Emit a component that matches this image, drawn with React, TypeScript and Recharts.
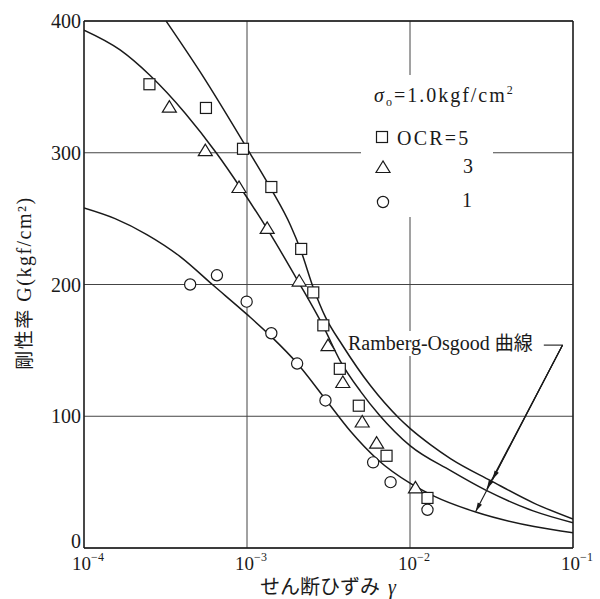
import React from 'react';
import {
  CartesianGrid,
  ComposedChart,
  Customized,
  Line,
  ReferenceLine,
  Scatter,
  XAxis,
  YAxis,
} from 'recharts';

const SERIF = "'Liberation Serif', 'Times New Roman', serif";
const CJK = "'Noto Sans CJK JP', sans-serif";
const INK = '#1a1a1a';

// measured points (shear strain, G in kgf/cm2)
const ocr5Strain = [2.52e-4, 5.6e-4, 9.45e-4, 1.41e-3, 2.15e-3, 2.55e-3, 2.94e-3, 3.71e-3, 4.85e-3, 7.18e-3, 1.28e-2];
const ocr5G = [352, 334, 303, 274, 227, 194, 169, 136, 108, 70, 38];

const ocr3Strain = [3.34e-4, 5.55e-4, 8.93e-4, 1.33e-3, 2.09e-3, 3.14e-3, 3.87e-3, 5.09e-3, 6.24e-3, 1.08e-2];
const ocr3G = [335, 302, 274, 243, 203, 154, 126, 96, 80, 46];

const ocr1Strain = [4.48e-4, 6.54e-4, 9.95e-4, 1.41e-3, 2.03e-3, 3.03e-3, 5.94e-3, 7.6e-3, 1.28e-2];
const ocr1G = [200, 207, 187, 163, 140, 112, 65, 50, 29];

// Ramberg-Osgood curves
const ro5Strain = [3.19e-4, 5.16e-4, 1.048e-3, 1.41e-3, 1.85e-3, 2.13e-3, 2.56e-3, 3.03e-3, 3.85e-3, 5.73e-3, 8.51e-3, 1e-2, 1.34e-2, 1.78e-2, 3.13e-2, 5.75e-2, 1e-1];
const ro5G = [400, 361.4, 299.2, 272.2, 244.8, 226.5, 197, 175.2, 153.9, 123.1, 98.9, 90.8, 78.3, 67.7, 51.1, 34.1, 22];

const ro3Strain = [1e-4, 1.665e-4, 2.545e-4, 4.176e-4, 6.54e-4, 9.1e-4, 1.333e-3, 2.067e-3, 2.944e-3, 3.744e-3, 4.97e-3, 6.5e-3, 1e-2, 1.776e-2, 2.915e-2, 5.75e-2, 1e-1];
const ro3G = [393, 378, 358.6, 330, 299.2, 273.6, 242, 202, 168, 141.7, 118.9, 100.8, 77.7, 58.7, 43.9, 28, 19.2];

const ro1Strain = [1e-4, 1.551e-4, 2.429e-4, 3.89e-4, 6.232e-4, 1e-3, 1.405e-3, 2.03e-3, 3.029e-3, 4.314e-3, 6.295e-3, 1e-2, 1.403e-2, 2.531e-2, 5.775e-2, 1e-1];
const ro1G = [258.1, 250, 237.9, 221.2, 199.2, 177.3, 160.6, 140.2, 112.9, 88.6, 67.4, 49.2, 39.4, 27.3, 16.3, 11.6];

const xTicks = [1e-4, 1e-3, 1e-2, 1e-1];
const yTicks = [0, 100, 200, 300, 400];
const minorTicks = [
  2e-4, 3e-4, 4e-4, 5e-4, 6e-4, 7e-4, 8e-4, 9e-4,
  2e-3, 3e-3, 4e-3, 5e-3, 6e-3, 7e-3, 8e-3, 9e-3,
  2e-2, 3e-2, 4e-2, 5e-2, 6e-2, 7e-2, 8e-2, 9e-2,
];

// leader lines of the "Ramberg-Osgood 曲線" note
const leaderStart = { x: 8.63e-2, y: 154 };
const leaderTail = { x: 6.62e-2, y: 154 };
const arrowUpper = { x: 3.21e-2, y: 51.9 };
const arrowMiddle = { x: 2.96e-2, y: 44.7 };
const arrowLower = { x: 2.53e-2, y: 27.7 };

const toPoints = (strain: number[], g: number[]) => strain.map((s, i) => ({ strain: s, G: g[i] }));

const ocr5 = toPoints(ocr5Strain, ocr5G);
const ocr3 = toPoints(ocr3Strain, ocr3G);
const ocr1 = toPoints(ocr1Strain, ocr1G);
const ro5 = toPoints(ro5Strain, ro5G);
const ro3 = toPoints(ro3Strain, ro3G);
const ro1 = toPoints(ro1Strain, ro1G);

const SquareMark = ({ cx, cy }: any) => (
  <rect x={cx - 5.5} y={cy - 5.5} width={11} height={11} fill="#fff" stroke={INK} strokeWidth={1.2} />
);
const TriangleMark = ({ cx, cy }: any) => (
  <polygon
    points={`${cx},${cy - 6} ${cx - 7},${cy + 5.5} ${cx + 7},${cy + 5.5}`}
    fill="#fff"
    stroke={INK}
    strokeWidth={1.2}
  />
);
const CircleMark = ({ cx, cy }: any) => (
  <circle cx={cx} cy={cy} r={5.6} fill="#fff" stroke={INK} strokeWidth={1.2} />
);

const DecadeTick = ({ x, y, payload }: any) => {
  const exp = Math.round(Math.log10(payload.value));
  return (
    <text x={x + 4} y={y + 22} textAnchor="middle" fill={INK} fontSize={19} fontFamily={SERIF}>
      <tspan>10</tspan>
      <tspan dy={-9} fontSize={12}>{'\u2212' + Math.abs(exp)}</tspan>
    </text>
  );
};

const GTick = ({ x, y, payload }: any) => (
  <text x={x} y={y + (payload.value === 0 ? 0 : 7)} textAnchor="end" fill={INK} fontSize={20} fontFamily={SERIF}>
    {payload.value}
  </text>
);

const arrowShape = (head: boolean) => (p: any) => {
  const { x1, y1, x2, y2 } = p;
  const a = Math.atan2(y2 - y1, x2 - x1);
  const bx = x2 - 9 * Math.cos(a);
  const by = y2 - 9 * Math.sin(a);
  const nx = -Math.sin(a) * 2.4;
  const ny = Math.cos(a) * 2.4;
  return (
    <g>
      <line x1={x1} y1={y1} x2={x2} y2={y2} stroke={INK} strokeWidth={1.1} />
      {head && <polygon points={`${x2},${y2} ${bx + nx},${by + ny} ${bx - nx},${by - ny}`} fill={INK} />}
    </g>
  );
};

const Notes = () => (
  <g fontFamily={SERIF} fill={INK}>
    {/* legend */}
    <rect x={361} y={75} width={132} height={142} fill="#fff" />
    <text x={374} y={102} fontSize={20} letterSpacing={2}>
      <tspan fontStyle="italic">σ</tspan>
      <tspan fontSize={12} dy={4}>o</tspan>
      <tspan dy={-4}>=1.0kgf/cm</tspan>
      <tspan fontSize={12} dy={-8}>2</tspan>
    </text>
    <SquareMark cx={382} cy={137} />
    <text x={397} y={145} fontSize={20} letterSpacing={2.2}>OCR=5</text>
    <TriangleMark cx={383} cy={167} />
    <text x={468} y={173} fontSize={20} textAnchor="middle">3</text>
    <CircleMark cx={383} cy={202} />
    <text x={467} y={207} fontSize={20} textAnchor="middle">1</text>

    {/* curve note */}
    <rect x={346} y={331} width={196} height={25} fill="#fff" />
    <text x={348} y={350} fontSize={20}>
      <tspan>Ramberg-Osgood </tspan>
      <tspan fontFamily={CJK} fontSize={19}>曲線</tspan>
    </text>

    {/* axis titles */}
    <text transform="translate(31,283) rotate(-90)" textAnchor="middle" fontSize={20} letterSpacing={1.5}>
      <tspan fontFamily={CJK} fontSize={19}>剛性率</tspan>
      <tspan> G(kgf/cm²)</tspan>
    </text>
    <text x={328} y={594} textAnchor="middle" fontSize={20}>
      <tspan fontFamily={CJK}>せん断ひずみ</tspan>
      <tspan fontStyle="italic" dx={8}>γ</tspan>
    </text>
  </g>
);

export default function App() {
  return (
    <div style={{ position: 'absolute', left: 0, top: 0, width: 600, height: 599, background: '#fff', fontFamily: SERIF }}>
      <ComposedChart width={600} height={599} margin={{ top: 21, right: 27, bottom: 0, left: 0 }}>
        <CartesianGrid stroke="#444" strokeWidth={1} />
        <XAxis
          dataKey="strain"
          type="number"
          scale="log"
          domain={[1e-4, 1e-1]}
          allowDataOverflow
          ticks={xTicks}
          interval={0}
          height={51}
          tickLine={false}
          tickSize={0}
          tickMargin={0}
          tick={<DecadeTick />}
          axisLine={{ stroke: INK, strokeWidth: 1.3 }}
        />
        <XAxis
          xAxisId="minorBottom"
          dataKey="strain"
          type="number"
          scale="log"
          domain={[1e-4, 1e-1]}
          allowDataOverflow
          ticks={minorTicks}
          interval={0}
          mirror
          tick={false}
          tickSize={11}
          axisLine={false}
          tickLine={{ stroke: INK, strokeWidth: 1 }}
        />
        <XAxis
          xAxisId="minorTop"
          orientation="top"
          dataKey="strain"
          type="number"
          scale="log"
          domain={[1e-4, 1e-1]}
          allowDataOverflow
          ticks={minorTicks}
          interval={0}
          mirror
          tick={false}
          tickSize={10}
          axisLine={{ stroke: INK, strokeWidth: 1.3 }}
          tickLine={{ stroke: INK, strokeWidth: 1 }}
        />
        <YAxis
          dataKey="G"
          type="number"
          domain={[0, 400]}
          ticks={yTicks}
          interval={0}
          width={84}
          tickLine={false}
          tickSize={0}
          tickMargin={3}
          tick={<GTick />}
          axisLine={{ stroke: INK, strokeWidth: 1.3 }}
        />
        <YAxis
          yAxisId="right"
          orientation="right"
          type="number"
          domain={[0, 400]}
          mirror
          tick={false}
          tickLine={false}
          axisLine={{ stroke: INK, strokeWidth: 1.3 }}
        />

        <Line data={ro5} dataKey="G" type="monotone" stroke={INK} strokeWidth={1.5} dot={false} isAnimationActive={false} />
        <Line data={ro3} dataKey="G" type="monotone" stroke={INK} strokeWidth={1.5} dot={false} isAnimationActive={false} />
        <Line data={ro1} dataKey="G" type="monotone" stroke={INK} strokeWidth={1.5} dot={false} isAnimationActive={false} />

        <Scatter data={ocr5} dataKey="G" shape={<SquareMark />} isAnimationActive={false} />
        <Scatter data={ocr3} dataKey="G" shape={<TriangleMark />} isAnimationActive={false} />
        <Scatter data={ocr1} dataKey="G" shape={<CircleMark />} isAnimationActive={false} />

        <Customized component={<Notes />} />

        <ReferenceLine segment={[leaderTail, leaderStart]} shape={arrowShape(false)} />
        <ReferenceLine segment={[leaderStart, arrowUpper]} shape={arrowShape(true)} />
        <ReferenceLine segment={[leaderStart, arrowMiddle]} shape={arrowShape(true)} />
        <ReferenceLine segment={[leaderStart, arrowLower]} shape={arrowShape(true)} />
      </ComposedChart>
    </div>
  );
}
